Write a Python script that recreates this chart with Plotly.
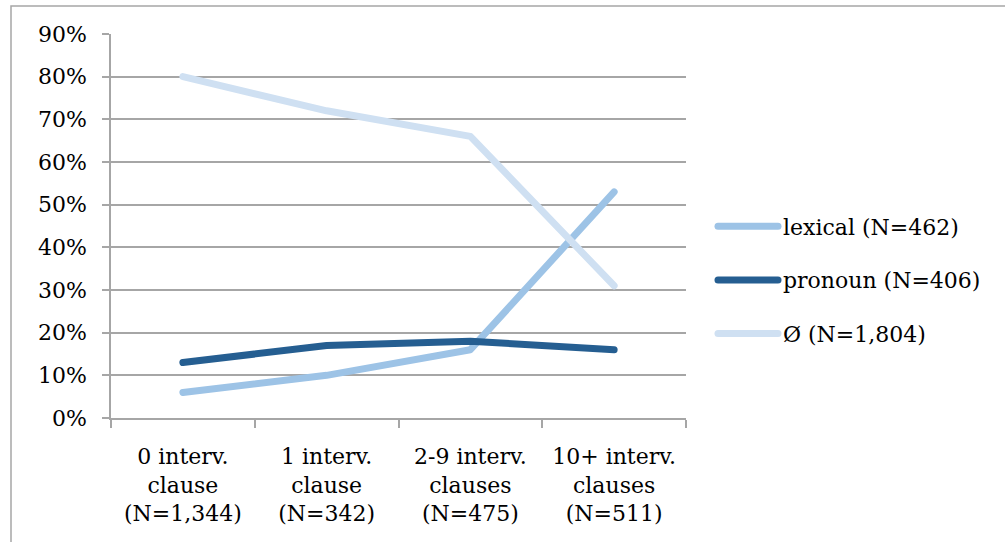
import plotly.graph_objects as go

categories = ["0 interv.<br>clause<br>(N=1,344)", "1 interv.<br>clause<br>(N=342)",
              "2-9 interv.<br>clauses<br>(N=475)", "10+ interv.<br>clauses<br>(N=511)"]
lexical = [6, 10, 16, 53]
pronoun = [13, 17, 18, 16]
zero = [80, 72, 66, 31]
series_names = ["lexical (N=462)", "pronoun (N=406)", "Ø (N=1,804)"]
colors = ["#9DC3E6", "#255E91", "#CFE0F2"]

FONT = "DejaVu Serif"
fig = go.Figure()
for i, (name, vals) in enumerate(zip(series_names, [lexical, pronoun, zero])):
    fig.add_trace(go.Scatter(x=categories, y=vals, mode="lines", name=name,
                             legendgroup=f"g{i}",
                             line=dict(color=colors[i], width=7)))

W, H = 1005, 542
L, R, T, B = 111, 686, 34, 418
pw, ph = R - L, B - T

def px(x):
    return (x - L) / pw

def py(y):
    return (B - y) / ph

fig.update_layout(
    width=W, height=H,
    margin=dict(l=L, r=W - R, t=T, b=H - B, autoexpand=False),
    plot_bgcolor="white", paper_bgcolor="white",
    font=dict(family=FONT, size=22, color="black"),
    showlegend=True,
    legend=dict(x=px(713), xanchor="left", y=py(280), yanchor="middle",
                itemwidth=60, tracegroupgap=22, font=dict(size=22, family=FONT),
                bgcolor="rgba(0,0,0,0)"),
    xaxis=dict(showline=True, linecolor="#A6A6A6", linewidth=1.5,
               range=[-0.5, 3.5], automargin=False,
               ticks="outside", tickson="boundaries", ticklen=8, tickcolor="#A6A6A6",
               tickwidth=1.5, showgrid=False, mirror=False, tickangle=0,
               ticklabelstandoff=18),
    yaxis=dict(range=[0, 90], dtick=10, ticksuffix="%", showline=True,
               automargin=False,
               linecolor="#A6A6A6", linewidth=1.5, ticks="outside", ticklen=7,
               tickcolor="#A6A6A6", tickwidth=1.5, showgrid=True,
               gridcolor="#A6A6A6", gridwidth=1.5, zeroline=False,
               ticklabelstandoff=11),
    shapes=[dict(type="rect", xref="paper", yref="paper",
                 x0=px(11), x1=px(1015), y0=py(560), y1=py(6),
                 line=dict(color="#A6A6A6", width=1.5), layer="below")],
)

post = """
document.body.style.margin='0';
document.querySelectorAll('path.js-line').forEach(function(p){
  p.style.strokeLinecap='round'; p.style.strokeLinejoin='round';
});
"""
fig.write_html("out.html", post_script=post, config={"displayModeBar": False})
